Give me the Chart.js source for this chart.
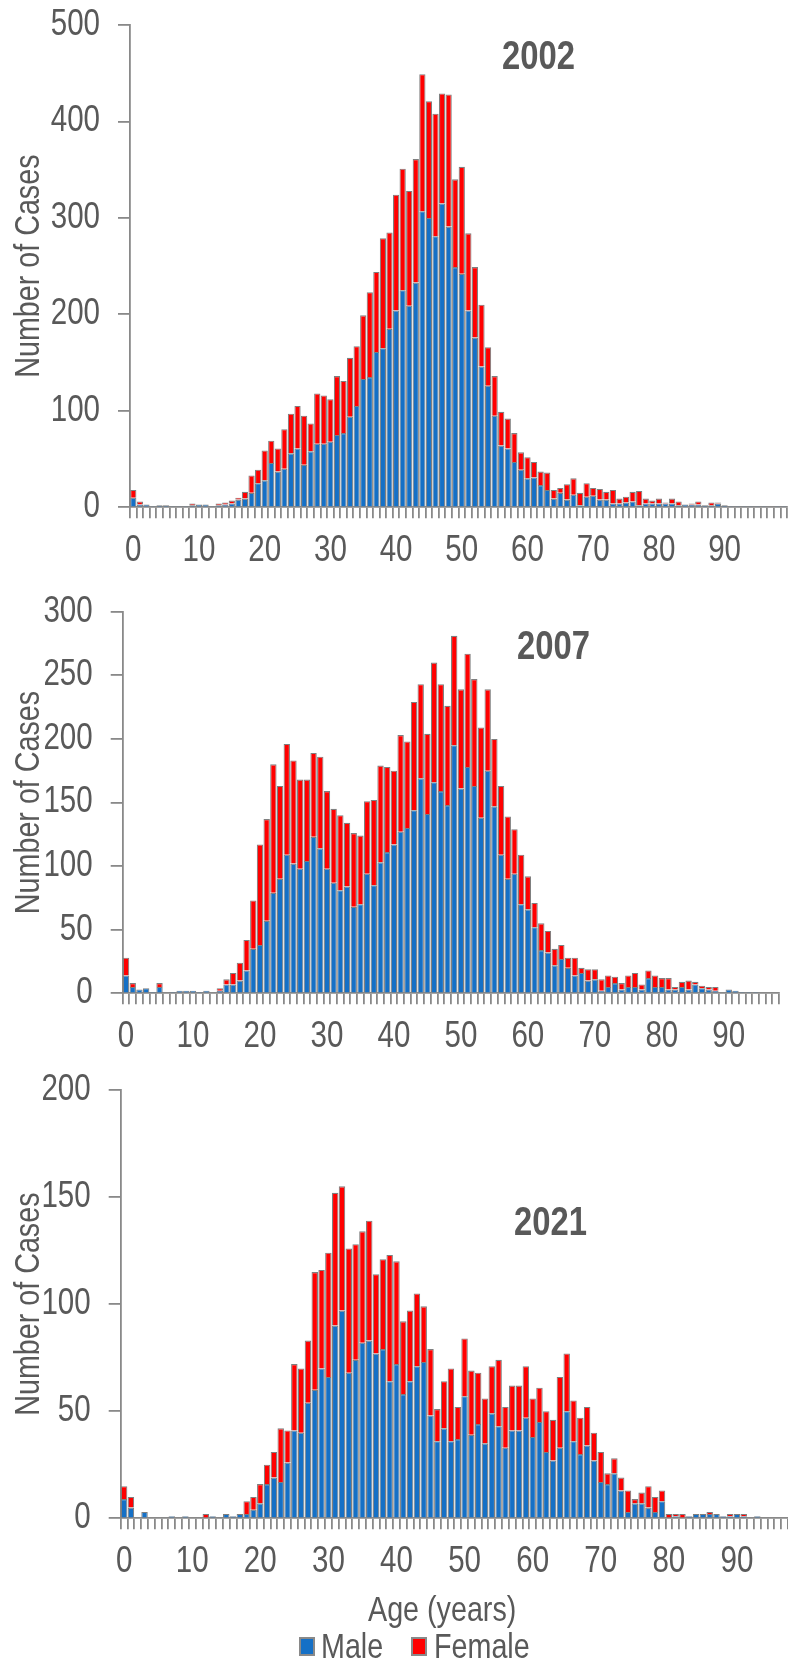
<!DOCTYPE html>
<html>
<head>
<meta charset="utf-8">
<script src="https://cdn.jsdelivr.net/npm/chart.js@4.4.1/dist/chart.umd.min.js"></script>
<style>
  html, body { margin: 0; padding: 0; background: #fff; }
  #wrap { position: relative; width: 788px; height: 1659px; overflow: hidden; background: #fff; }
  canvas { position: absolute; left: 0; }
  .year, .lgtext, .axtitle { position: absolute; font-family: 'Liberation Sans', Arial, sans-serif; color: #595959;
    white-space: nowrap; transform: scaleX(0.82); transform-origin: 0 0; }
  .year { font-weight: bold; font-size: 40px; line-height: 40px; }
  .lgtext, .axtitle { font-size: 35px; line-height: 36px; }
  .lgbox { position: absolute; width: 16px; height: 19px; box-sizing: border-box; border: 2px solid #898989; }
</style>
</head>
<body>
<div id="wrap">
  <canvas id="c2002" width="788" height="570" style="top:0px"></canvas>
  <canvas id="c2007" width="788" height="500" style="top:575px"></canvas>
  <canvas id="c2021" width="788" height="609" style="top:1050px"></canvas>
  <div class="year" style="left:502px;top:35px">2002</div>
  <div class="year" style="left:517px;top:625px">2007</div>
  <div class="year" style="left:514px;top:1201px">2021</div>
  <div class="axtitle" style="left:368px;top:1591px">Age (years)</div>
  <div class="lgbox" style="left:299px;top:1637px;background:#1570C6"></div>
  <div class="lgtext" style="left:321px;top:1628px">Male</div>
  <div class="lgbox" style="left:411px;top:1637px;background:#FF0000"></div>
  <div class="lgtext" style="left:434px;top:1628px">Female</div>
</div>
<script>
// Age categories (single years of age)
const ages100 = Array.from({ length: 100 }, (_, i) => String(i)); // 0-99
const ages98 = ages100.slice(0, 98);                                 // 0-97
const xTickLabels = ['0', '10', '20', '30', '40', '50', '60', '70', '80', '90'];

// 2002 cases by age
const male2002 = [10,3,3,1,2,2,1,1,1,2, 3,3,1,2,3,4,8,9,15,25,
  28,46,37,40,56,61,44,58,66,66, 68,75,77,94,105,133,135,161,165,185,
  204,225,209,233,307,300,281,315,291,249, 242,204,176,146,126,95,64,61,47,39,
  30,31,23,18,9,15,8,13,2,11, 12,8,8,4,4,5,6,2,4,4,
  4,4,4,2,3,3,3,2,2,4, 2,1,1,1,1,1,1,0,1,1];
const female2002 = [8,3,0,0,0,0,0,0,0,2, 0,0,0,2,2,3,2,7,18,14,
  31,23,24,41,41,44,51,29,52,50, 44,61,54,61,62,66,88,83,114,100,
  120,126,119,128,142,121,127,114,137,91, 111,80,73,64,40,41,35,31,30,18,
  22,16,14,18,9,5,16,17,13,14, 8,11,8,14,5,6,10,15,5,3,
  5,1,5,4,0,1,3,0,3,1, 0,0,0,0,0,0,0,0,0,0];

// 2007 cases by age
const male2007 = [14,5,3,4,1,5,0,1,2,2, 2,1,2,0,2,7,7,10,18,35,
  38,57,79,90,109,102,98,104,123,114, 98,87,81,84,68,70,94,85,103,111,
  117,127,130,144,169,141,166,159,148,195, 161,178,163,138,175,147,109,90,94,70,
  66,52,34,32,22,27,20,14,16,10, 11,2,5,8,3,5,5,3,12,5,
  5,3,3,5,3,7,4,3,2,0, 3,2,1,1,1,0,0,0];
const female2007 = [14,3,0,0,0,3,0,0,0,0, 0,0,0,0,2,4,9,14,24,38,
  79,80,101,73,87,81,70,64,66,72, 61,58,59,50,58,54,57,67,76,67,
  58,76,68,85,74,63,94,84,78,86, 78,89,84,71,64,53,54,49,35,39,
  26,19,21,17,13,11,8,14,4,9, 8,9,9,5,5,9,11,4,6,9,
  7,9,2,4,7,2,2,2,3,0, 0,0,0,0,0,0,0,0];

// 2021 cases by age
const male2021 = [9,5,0,3,0,0,0,1,0,1, 0,0,0,1,0,2,1,2,2,4,
  7,16,19,17,26,41,40,54,60,70, 66,90,97,68,74,82,83,77,79,64,
  72,58,64,71,73,48,36,42,36,37, 57,39,44,35,49,43,33,41,41,47,
  38,45,31,27,33,50,36,30,34,27, 17,16,21,13,3,7,7,5,3,8,
  0,1,0,1,2,2,2,2,1,1, 2,1,0,1,0,0,0,0];
const female2021 = [6,5,0,0,0,0,0,0,0,0, 0,0,2,0,0,0,0,0,6,6,
  9,9,12,25,15,31,30,29,55,46, 58,62,58,58,54,52,56,37,42,59,
  48,34,33,34,26,31,15,22,34,15, 27,30,24,21,22,31,19,21,21,24,
  18,16,19,19,33,27,19,17,18,13, 14,5,7,6,10,2,5,10,7,5,
  2,1,2,0,0,0,1,0,0,1, 0,1,0,0,0,0,0,0];

const FONT = "'Liberation Sans', Arial, sans-serif";
const TEXT = '#595959';
const AXIS = '#898989';
const BLUE = '#1570C6';
const RED = '#FF0000';
const NARROW = 0.82; // condensed lettering (Arial Narrow proportions)

Chart.defaults.font.family = FONT;

// Draw all canvas text horizontally condensed about its anchor point,
// so rotated titles are condensed along their own baseline too.
function condenseText(canvas) {
  const ctx = canvas.getContext('2d');
  const baseFill = CanvasRenderingContext2D.prototype.fillText;
  ctx.fillText = function (text, x, y, maxWidth) {
    this.save();
    this.translate(x, y);
    this.scale(NARROW, 1);
    if (maxWidth === undefined || maxWidth === null) baseFill.call(this, text, 0, 0);
    else baseFill.call(this, text, 0, 0, maxWidth / NARROW);
    this.restore();
  };
}

function panel(id, cfg) {
  const canvas = document.getElementById(id);
  condenseText(canvas);
  const labels = cfg.labels;
  return new Chart(canvas, {
    type: 'bar',
    data: {
      labels: labels,
      datasets: [
        { label: 'Male', data: cfg.male, backgroundColor: BLUE, borderColor: '#7f7f7f', borderWidth: 1.1,
          barPercentage: 0.95, categoryPercentage: 1.0 },
        { label: 'Female', data: cfg.female, backgroundColor: RED, borderColor: '#7f7f7f', borderWidth: 1.1,
          barPercentage: 0.95, categoryPercentage: 1.0 }
      ]
    },
    options: {
      responsive: false,
      animation: false,
      devicePixelRatio: 1,
      layout: { padding: cfg.padding },
      plugins: { legend: { display: false }, tooltip: { enabled: false } },
      scales: {
        x: {
          stacked: true,
          offset: true,
          ticks: {
            autoSkip: false, maxRotation: 0, minRotation: 0, padding: 11,
            color: TEXT, font: { size: 36 },
            callback: function (value, index) {
              const lab = labels[index];
              return xTickLabels.includes(lab) ? lab : '';
            }
          },
          grid: { offset: true, drawOnChartArea: false, tickLength: 11, color: AXIS, lineWidth: 1.8 },
          border: { color: AXIS, width: 1.8 },
          afterFit: function (scale) {
            scale.height = cfg.xHeight;
            scale.paddingLeft = 0;
            scale.paddingRight = 0;
          }
        },
        y: {
          stacked: true,
          min: 0,
          max: cfg.max,
          ticks: { stepSize: cfg.step, padding: 18, color: TEXT, font: { size: 36 } },
          grid: { drawOnChartArea: false, tickLength: 12, color: AXIS, lineWidth: 1.8 },
          border: { color: AXIS, width: 1.8 },
          title: { display: true, text: 'Number of Cases', color: TEXT, font: { size: 35 }, padding: { top: 8, bottom: 0 } },
          afterFit: function (scale) {
            scale.width = cfg.yWidth;
            scale.paddingTop = 0;
            scale.paddingBottom = 0;
          }
        }
      }
    }
  });
}

panel('c2002', { labels: ages100, male: male2002, female: female2002, max: 500, step: 100,
  yWidth: 130, xHeight: 62.7, padding: { top: 25, right: 1, bottom: 0, left: 0 } });
panel('c2007', { labels: ages98, male: male2007, female: female2007, max: 300, step: 50,
  yWidth: 122.7, xHeight: 81.7, padding: { top: 36.7, right: 9, bottom: 0, left: 0 } });
panel('c2021', { labels: ages98, male: male2021, female: female2021, max: 200, step: 50,
  yWidth: 120.7, xHeight: 111.7, padding: { top: 40, right: 0, bottom: 29, left: 0 } });
</script>
</body>
</html>
